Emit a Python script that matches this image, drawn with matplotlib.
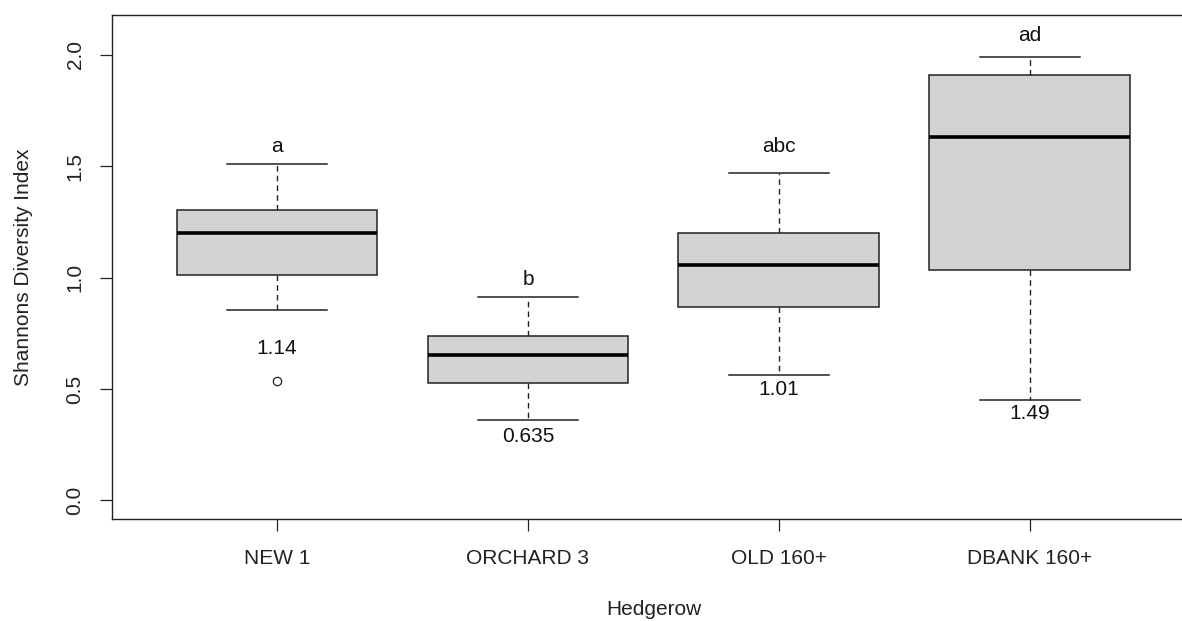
import matplotlib
matplotlib.use("Agg")
import matplotlib.pyplot as plt

plt.rcParams['font.family'] = ['Liberation Sans', 'DejaVu Sans']

# Values
groups = ['NEW 1', 'ORCHARD 3', 'OLD 160+', 'DBANK 160+']
whisker_low = [0.855, 0.361, 0.563, 0.450]
q1 = [1.011, 0.528, 0.868, 1.035]
medians = [1.201, 0.653, 1.057, 1.633]
q3 = [1.304, 0.738, 1.201, 1.909]
whisker_high = [1.512, 0.913, 1.470, 1.993]
outliers = [[0.537], [], [], []]

# letters above and numbers below each box
letters = ['a', 'b', 'abc', 'ad']
letter_y = [1.587, 0.99, 1.587, 2.087]
means = ['1.14', '0.635', '1.01', '1.49']
mean_y = [0.684, 0.289, 0.496, 0.388]

stats = []
for i, g in enumerate(groups):
    stats.append({
        'label': g, 'whislo': whisker_low[i], 'q1': q1[i], 'med': medians[i],
        'q3': q3[i], 'whishi': whisker_high[i], 'fliers': outliers[i],
    })

fig = plt.figure(figsize=(11.82, 6.21), dpi=100)
ax = fig.add_axes([0.0945, 0.1643, 0.9168, 0.8121])

positions = [1, 2, 3, 4]
ax.bxp(stats, positions=positions, widths=0.8, capwidths=0.4, patch_artist=True,
       boxprops=dict(facecolor='#d3d3d3', edgecolor='#222222', linewidth=1.1),
       medianprops=dict(color='black', linewidth=2.6),
       whiskerprops=dict(color='#222222', linewidth=1.0, linestyle=(0, (4, 3))),
       capprops=dict(color='#222222', linewidth=1.1),
       flierprops=dict(marker='o', markerfacecolor='none', markeredgecolor='#222222',
                       markersize=6, markeredgewidth=0.9))

for x, t, y in zip(positions, letters, letter_y):
    ax.text(x, y, t, ha='center', va='center', fontsize=15, color='#111111')
for x, t, y in zip(positions, means, mean_y):
    ax.text(x, y, t, ha='center', va='center', fontsize=15, color='#111111')

ax.set_xlim(0.341, 4.66)
ax.set_ylim(-0.0835, 2.181)
ax.set_yticks([0.0, 0.5, 1.0, 1.5, 2.0])
ax.set_yticklabels(['0.0', '0.5', '1.0', '1.5', '2.0'], rotation=90, va='center')
ax.set_xticks(positions)
ax.set_xticklabels(groups)
ax.tick_params(axis='both', length=8.5, width=0.9, labelsize=15, colors='#222222')
ax.tick_params(axis='x', pad=13)
ax.tick_params(axis='y', pad=11)
for s in ax.spines.values():
    s.set_linewidth(1.0)
    s.set_color('#222222')

fig.text(0.02, 0.57, 'Shannons Diversity Index', rotation=90, ha='center',
         va='center', fontsize=15, color='#222222')
fig.text(0.553, 0.004, 'Hedgerow', ha='center', va='bottom', fontsize=15,
         color='#222222')

fig.savefig('out.png', dpi=100)
